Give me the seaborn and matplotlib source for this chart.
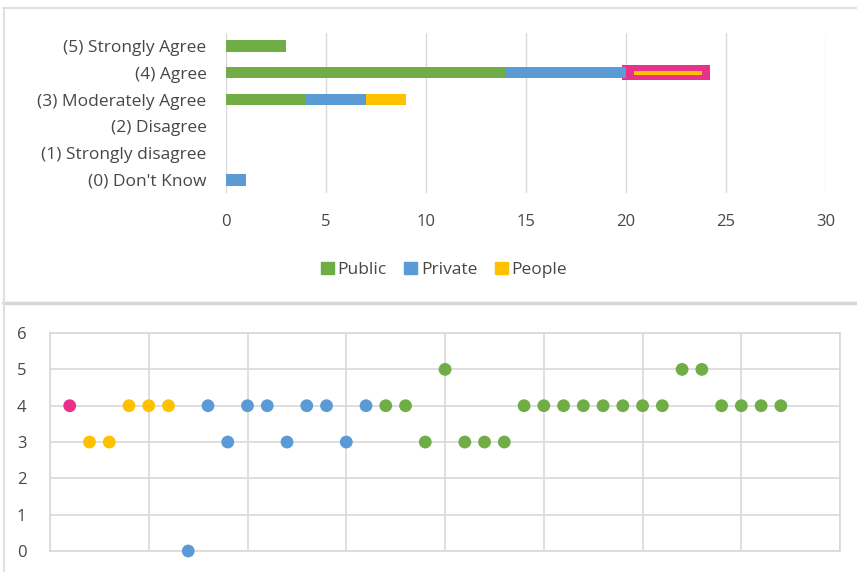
import matplotlib
matplotlib.use("Agg")
import matplotlib.pyplot as plt
from matplotlib.lines import Line2D
from matplotlib.patches import Patch
import seaborn as sns
import pandas as pd

# top chart: counts per answer, stacked by sector
categories = ["(5) Strongly Agree", "(4) Agree", "(3) Moderately Agree",
              "(2) Disagree", "(1) Strongly disagree", "(0) Don't Know"]
public = [3, 14, 4, 0, 0, 0]
private = [0, 6, 3, 0, 0, 1]
people = [0, 3, 2, 0, 0, 0]
other = [0, 1, 0, 0, 0, 0]

# bottom chart: individual answers, in respondent order
other_scores = [4]
people_scores = [3, 3, 4, 4, 4]
private_scores = [0, 4, 3, 4, 4, 3, 4, 4, 3, 4]
public_scores = [4, 4, 3, 5, 3, 3, 3, 4, 4, 4, 4, 4, 4, 4, 4, 5, 5, 4, 4, 4, 4]

GREEN = "#70AD47"
BLUE = "#5B9BD5"
YELLOW = "#FFC000"
PINK = "#E8318A"
GRID = "#D9D9D9"
TXT = "#474747"

sns.set_theme(style="white")
plt.rcParams["font.family"] = ["Open Sans", "DejaVu Sans"]

fig = plt.figure(figsize=(8.57, 5.72), dpi=100)

# ---------------- top: stacked horizontal bars ----------------
ax1 = fig.add_axes([0.2637, 0.662, 0.70, 0.281])
df = pd.DataFrame({"cat": categories, "public": public, "private": private,
                   "people": people, "other": other})
df["c1"] = df["public"]
df["c2"] = df["c1"] + df["private"]
df["c3"] = df["c2"] + df["people"]

# pink highlighted segment (people + flagged answer) on top of public+private
hl = df[df["other"] > 0]
for _, r in hl.iterrows():
    yi = categories.index(r["cat"])
    w = r["people"] + r["other"]
    ax1.barh(yi, w + 0.4, left=r["c2"] - 0.2, height=0.56, color=PINK,
             linewidth=0, zorder=2)
    ax1.barh(yi, w - 0.6, left=r["c2"] + 0.4, height=0.15, color=YELLOW,
             linewidth=0, zorder=3)

plain = df.copy()
plain.loc[plain["other"] > 0, "c3"] = plain["c2"]
for col, colour in [("c3", YELLOW), ("c2", BLUE), ("c1", GREEN)]:
    sns.barplot(data=plain, x=col, y="cat", order=categories, color=colour,
                width=0.42, orient="h", ax=ax1, saturation=1, linewidth=0,
                zorder=2)

ax1.set_xlim(0, 30)
ax1.set_ylim(5.5, -0.5)
ax1.set_xticks(range(0, 31, 5))
ax1.grid(axis="x", color=GRID, linewidth=1)
ax1.set_axisbelow(True)
for s in ax1.spines.values():
    s.set_visible(False)
ax1.set_xlabel("")
ax1.set_ylabel("")
ax1.tick_params(axis="x", length=0, pad=15, labelsize=12, colors=TXT)
ax1.tick_params(axis="y", length=0, pad=14, labelsize=12.5, colors=TXT)

handles = [Patch(color=GREEN, label="Public"), Patch(color=BLUE, label="Private"),
           Patch(color=YELLOW, label="People")]
fig.legend(handles=handles, loc="center", bbox_to_anchor=(0.518, 0.528), ncol=3,
           frameon=False, handlelength=0.75, handleheight=0.75, handletextpad=0.2,
           columnspacing=1.0, fontsize=12.5, labelcolor=TXT)

# ---------------- bottom: individual answers ----------------
ax2 = fig.add_axes([0.0583, 0.0367, 0.922, 0.381])
groups = (["Other"] * len(other_scores) + ["People"] * len(people_scores)
          + ["Private"] * len(private_scores) + ["Public"] * len(public_scores))
scores = other_scores + people_scores + private_scores + public_scores
pts = pd.DataFrame({"respondent": range(1, len(scores) + 1), "score": scores,
                    "group": groups})
sns.scatterplot(data=pts, x="respondent", y="score", hue="group",
                palette={"Other": PINK, "People": YELLOW, "Private": BLUE, "Public": GREEN},
                s=85, linewidth=0, legend=False, ax=ax2, clip_on=False, zorder=3)
ax2.set_xlim(0, 40)
ax2.set_ylim(0, 6)
ax2.set_xticks(range(0, 41, 5))
ax2.set_xticklabels([])
ax2.set_yticks(range(0, 7))
ax2.grid(True, color=GRID, linewidth=1.2)
ax2.set_axisbelow(True)
for s in ax2.spines.values():
    s.set_color(GRID)
    s.set_linewidth(1.2)
ax2.set_xlabel("")
ax2.set_ylabel("")
ax2.tick_params(axis="both", length=0, labelsize=12, colors=TXT)
ax2.tick_params(axis="y", pad=17)

# panel frames
fig.add_artist(Line2D([0.004, 1.0], [1 - 8 / 572, 1 - 8 / 572], color="#E0E0E0", lw=1.5))
fig.add_artist(Line2D([0.004, 1.0], [1 - 303 / 572, 1 - 303 / 572], color="#D6D6D6", lw=2.5))
fig.add_artist(Line2D([0.0045, 0.0045], [0, 1 - 8 / 572], color="#E0E0E0", lw=1.5))

fig.savefig("out.png", dpi=100)
